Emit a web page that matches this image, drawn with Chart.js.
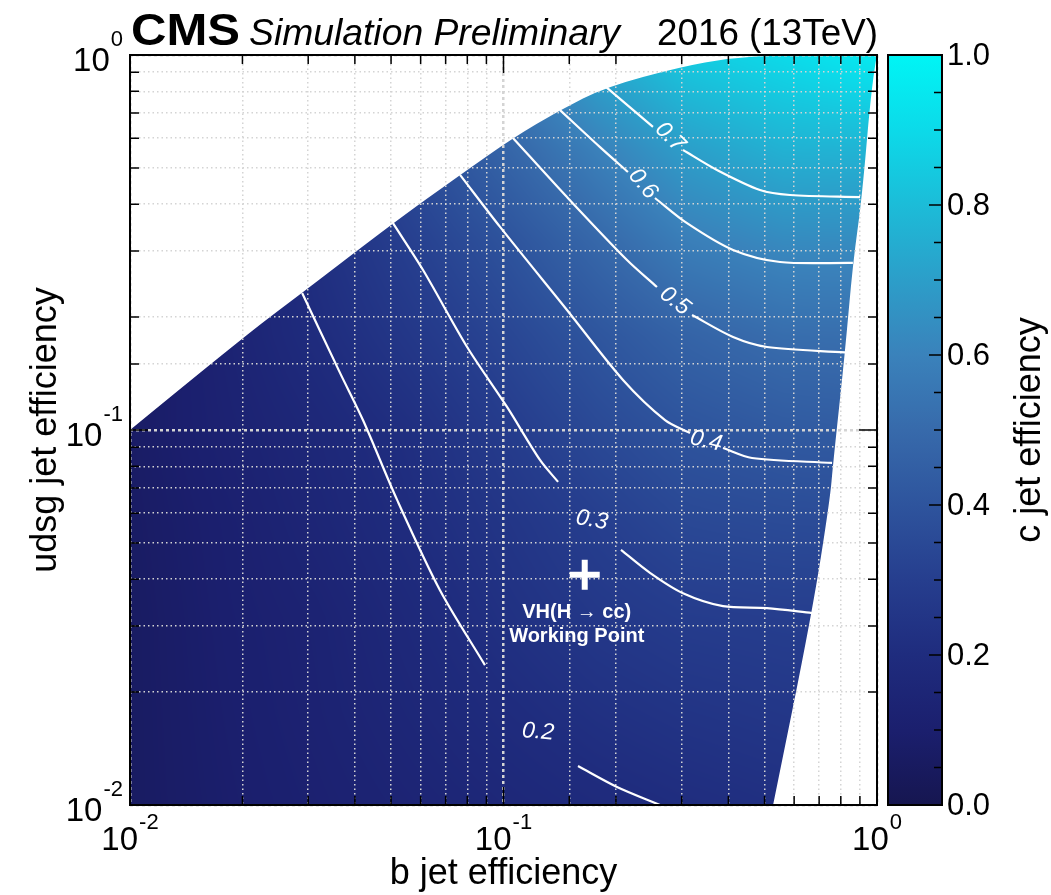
<!DOCTYPE html>
<html>
<head>
<meta charset="utf-8">
<script src="https://cdn.jsdelivr.net/npm/chart.js@4.4.1/dist/chart.umd.min.js"></script>
<style>
  html, body { margin: 0; padding: 0; background: #fff; }
  #wrap { position: relative; width: 1051px; height: 895px; }
</style>
</head>
<body>
<div id="wrap"><canvas id="chart"></canvas></div>
<script>
'use strict';

// ── Data ──────────────────────────────────────────────────────────────────
// Nodes of the c-jet efficiency map (b-jet eff. on x, udsg eff. on y, log spaced)
const MAP_X = [0.01, 0.0178, 0.0316, 0.0562, 0.1, 0.178, 0.316, 0.562, 1.0];
const MAP_Y = [1.0, 0.562, 0.316, 0.178, 0.1, 0.0562, 0.0316, 0.0178, 0.01];
// c-jet efficiency at each node; one row per MAP_Y entry
const C_EFF = [
  [0.15, 0.25, 0.35, 0.45, 0.57, 0.74, 0.85, 0.90, 0.96],
  [0.05, 0.12, 0.24, 0.357, 0.475, 0.594, 0.705, 0.766, 0.775],
  [0.05, 0.13, 0.218, 0.305, 0.39, 0.487, 0.585, 0.628, 0.635],
  [0.06, 0.13, 0.197, 0.263, 0.333, 0.406, 0.471, 0.513, 0.52],
  [0.07, 0.12, 0.165, 0.215, 0.285, 0.35, 0.40, 0.427, 0.44],
  [0.065, 0.105, 0.15, 0.199, 0.249, 0.30, 0.345, 0.357, 0.36],
  [0.06, 0.10, 0.13, 0.176, 0.225, 0.265, 0.29, 0.298, 0.30],
  [0.06, 0.095, 0.125, 0.16, 0.195, 0.226, 0.247, 0.26, 0.27],
  [0.06, 0.09, 0.115, 0.14, 0.165, 0.187, 0.205, 0.22, 0.23],
];

// Edges of the region where the map is defined
const UPPER_EDGE_X = [0.01, 0.0201, 0.0289, 0.0506, 0.0765, 0.106, 0.1417, 0.188, 0.297, 0.404, 0.55, 1.0];
const UPPER_EDGE_Y = [0.1, 0.177, 0.232, 0.356, 0.479, 0.601, 0.713, 0.822, 0.929, 0.982, 1.0, 1.0];
const RIGHT_EDGE_X = [1.0, 0.97, 0.912, 0.862, 0.821, 0.763, 0.748, 0.670, 0.527];
const RIGHT_EDGE_Y = [1.0, 0.858, 0.418, 0.279, 0.161, 0.0817, 0.0651, 0.0325, 0.01];

// Iso-efficiency contours (null = gap left for the label)
const ISO_LEVELS = [0.2, 0.3, 0.4, 0.5, 0.6, 0.7];
const ISO_X = [
  [0.0289, 0.0365, 0.0421, 0.0519, 0.0676, 0.0892, null, 0.1583, 0.2013, 0.2624],
  [0.0506, 0.0609, 0.0799, 0.1022, 0.1252, 0.140, null, 0.2063, 0.2467, 0.3024, 0.387, 0.5075, 0.670],
  [0.0765, 0.0979, 0.1479, 0.2089, 0.2707, 0.3157, null, 0.387, 0.4627, 0.758],
  [0.106, 0.1479, 0.2141, 0.2576, null, 0.3197, 0.4117, 0.5075, 0.821],
  [0.1417, 0.1813, 0.2154, null, 0.2544, 0.31, 0.4117, 0.55, 0.862],
  [0.188, 0.2513, null, 0.3024, 0.3729, 0.486, 0.585, 0.901],
];
const ISO_Y = [
  [0.232, 0.142, 0.106, 0.0651, 0.0374, 0.0236, null, 0.0127, 0.01117, 0.0100],
  [0.356, 0.267, 0.1665, 0.1152, 0.0832, 0.0727, null, 0.0479, 0.0416, 0.0367, 0.0339, 0.0335, 0.0325],
  [0.479, 0.348, 0.209, 0.136, 0.1063, 0.0982, null, 0.0895, 0.0842, 0.0817],
  [0.601, 0.418, 0.284, 0.2406, null, 0.2026, 0.177, 0.1665, 0.161],
  [0.713, 0.568, 0.4875, null, 0.4156, 0.356, 0.302, 0.2805, 0.279],
  [0.822, 0.643, null, 0.558, 0.4935, 0.4365, 0.4233, 0.418],
];
// Where each contour label sits
const ISO_LABEL_X = [0.1237, 0.1725, 0.3484, 0.2878, 0.2362, 0.2791];
const ISO_LABEL_Y = [0.01566, 0.0575, 0.0934, 0.2208, 0.453, 0.604];

// VH(H→cc) working point
const WP_X = [0.165];
const WP_Y = [0.0411];

const AXIS_LABEL_EXP = [-2, -1, 0];
const CBAR_LABELS = [0.0, 0.2, 0.4, 0.6, 0.8, 1.0];

// ── Style ─────────────────────────────────────────────────────────────────
const FONT = '"Liberation Sans", Arial, Helvetica, sans-serif';
const GRID_COL = '#d4d4d4';
const ISO_LABEL_ANGLE = [5, 10, 13, 38, 50, 45];
const CMAP_RGB = [
  [22, 22, 80], [27, 31, 110], [31, 44, 126], [38, 62, 142], [46, 84, 157],
  [55, 106, 171], [58, 130, 187], [44, 158, 201], [28, 188, 216], [12, 218, 233], [0, 245, 245],
];
const CBAR_LEFT = 888;
const CBAR_RIGHT = 942;

function cmap(v) {
  v = Math.max(0, Math.min(1, v));
  const t = v * (CMAP_RGB.length - 1);
  const i = Math.min(CMAP_RGB.length - 2, Math.floor(t));
  const f = t - i;
  const a = CMAP_RGB[i], b = CMAP_RGB[i + 1];
  return [a[0] + f * (b[0] - a[0]), a[1] + f * (b[1] - a[1]), a[2] + f * (b[2] - a[2])];
}

const isDecade = v => Math.abs(Math.log10(v) - Math.round(Math.log10(v))) < 1e-6;

// ── Region outline ────────────────────────────────────────────────────────
function smoothThrough(ctx, pts) {
  ctx.lineTo(pts[0][0], pts[0][1]);
  for (let i = 1; i < pts.length - 1; i++) {
    const mx = (pts[i][0] + pts[i + 1][0]) / 2, my = (pts[i][1] + pts[i + 1][1]) / 2;
    ctx.quadraticCurveTo(pts[i][0], pts[i][1], mx, my);
  }
  const last = pts[pts.length - 1];
  ctx.lineTo(last[0], last[1]);
}

function regionPath(ctx, xs, ys) {
  const up = UPPER_EDGE_X.map((x, i) => [xs.getPixelForValue(x), ys.getPixelForValue(UPPER_EDGE_Y[i])]);
  const rt = RIGHT_EDGE_X.map((x, i) => [xs.getPixelForValue(x), ys.getPixelForValue(RIGHT_EDGE_Y[i])]);
  const x0 = xs.getPixelForValue(xs.min), y0 = ys.getPixelForValue(ys.min);
  ctx.beginPath();
  ctx.moveTo(x0, y0);
  smoothThrough(ctx, up);
  smoothThrough(ctx, rt);
  ctx.closePath();
}

// ── Heat map, painted under the grid ──────────────────────────────────────
const heatmapPlugin = {
  id: 'heatmap',
  beforeDraw(chart) {
    const { ctx, chartArea: a, scales: { x: xs, y: ys } } = chart;
    const nx = MAP_X.map(v => xs.getPixelForValue(v));
    const ny = MAP_Y.map(v => ys.getPixelForValue(v));
    const w = Math.ceil(a.right - a.left), h = Math.ceil(a.bottom - a.top);
    const off = document.createElement('canvas');
    off.width = w; off.height = h;
    const octx = off.getContext('2d');
    const img = octx.createImageData(w, h);

    const locate = (nodes, p) => {
      let k = 0;
      while (k < nodes.length - 2 && p > nodes[k + 1]) k++;
      const f = (p - nodes[k]) / (nodes[k + 1] - nodes[k]);
      return [k, Math.max(0, Math.min(1, f))];
    };
    const cols = [], rows = [];
    for (let i = 0; i < w; i++) cols.push(locate(nx, a.left + i + 0.5));
    for (let j = 0; j < h; j++) rows.push(locate(ny, a.top + j + 0.5));

    let p = 0;
    for (let j = 0; j < h; j++) {
      const [r, fy] = rows[j];
      for (let i = 0; i < w; i++) {
        const [c, fx] = cols[i];
        const top = C_EFF[r][c] + fx * (C_EFF[r][c + 1] - C_EFF[r][c]);
        const bot = C_EFF[r + 1][c] + fx * (C_EFF[r + 1][c + 1] - C_EFF[r + 1][c]);
        const rgb = cmap(top + fy * (bot - top));
        img.data[p++] = rgb[0]; img.data[p++] = rgb[1]; img.data[p++] = rgb[2]; img.data[p++] = 255;
      }
    }
    octx.putImageData(img, 0, 0);

    ctx.save();
    regionPath(ctx, xs, ys);
    ctx.clip();
    ctx.drawImage(off, a.left, a.top);
    ctx.restore();
  },
};

// ── Frame, ticks, labels, colour bar ──────────────────────────────────────
function drawPow(ctx, exp, left, baseline, supBaseline) {
  ctx.font = '33px ' + FONT;
  ctx.textAlign = 'left';
  ctx.textBaseline = 'alphabetic';
  ctx.fillText('10', left, baseline);
  const w10 = ctx.measureText('10').width;
  ctx.font = '22px ' + FONT;
  ctx.fillText(String(exp), left + w10 + 1, supBaseline);
}
function powWidth(ctx, exp) {
  ctx.font = '33px ' + FONT;
  const w10 = ctx.measureText('10').width;
  ctx.font = '22px ' + FONT;
  return w10 + 1 + ctx.measureText(String(exp)).width;
}
function fitText(ctx, str, left, baseline, font, width) {
  ctx.save();
  ctx.font = font;
  ctx.textAlign = 'left';
  ctx.textBaseline = 'alphabetic';
  const m = ctx.measureText(str).width;
  ctx.translate(left, baseline);
  ctx.scale(width / m, 1);
  ctx.fillText(str, 0, 0);
  ctx.restore();
}

const overlayPlugin = {
  id: 'overlay',
  afterDraw(chart) {
    const { ctx, chartArea: a, scales: { x: xs, y: ys } } = chart;
    ctx.save();

    // contour labels
    ctx.fillStyle = '#ffffff';
    ctx.font = 'italic 23px ' + FONT;
    ctx.textAlign = 'center';
    ctx.textBaseline = 'middle';
    ISO_LEVELS.forEach((lv, i) => {
      ctx.save();
      ctx.translate(xs.getPixelForValue(ISO_LABEL_X[i]), ys.getPixelForValue(ISO_LABEL_Y[i]));
      ctx.rotate(ISO_LABEL_ANGLE[i] * Math.PI / 180);
      ctx.fillText(lv.toFixed(1), 0, 0);
      ctx.restore();
    });

    // working point caption
    const wpx = xs.getPixelForValue(WP_X[0]), wpy = ys.getPixelForValue(WP_Y[0]);
    ctx.font = 'bold 20px ' + FONT;
    ctx.fillText('VH(H \u2192 cc)', wpx - 8, wpy + 38);
    ctx.fillText('Working Point', wpx - 8, wpy + 62);

    // frame
    ctx.strokeStyle = '#000';
    ctx.lineWidth = 2;
    ctx.strokeRect(a.left, a.top, a.right - a.left, a.bottom - a.top);

    // inward ticks on all four sides
    ctx.lineWidth = 1.5;
    ctx.beginPath();
    xs.ticks.forEach(t => {
      const px = xs.getPixelForValue(t.value);
      const len = isDecade(t.value) ? 18 : 9;
      ctx.moveTo(px, a.bottom); ctx.lineTo(px, a.bottom - len);
      ctx.moveTo(px, a.top); ctx.lineTo(px, a.top + len);
    });
    ys.ticks.forEach(t => {
      const py = ys.getPixelForValue(t.value);
      const len = isDecade(t.value) ? 18 : 9;
      ctx.moveTo(a.left, py); ctx.lineTo(a.left + len, py);
      ctx.moveTo(a.right, py); ctx.lineTo(a.right - len, py);
    });
    ctx.stroke();

    // tick labels 10^n
    ctx.fillStyle = '#000';
    AXIS_LABEL_EXP.forEach(e => {
      const v = Math.pow(10, e);
      const px = xs.getPixelForValue(v);
      const w = powWidth(ctx, e);
      drawPow(ctx, e, px - w / 2, a.bottom + 45, a.bottom + 24);
      const py = ys.getPixelForValue(v);
      drawPow(ctx, e, 123 - w, py + 16, py - 9);
    });

    // axis titles
    ctx.font = '36px ' + FONT;
    ctx.textAlign = 'center';
    ctx.textBaseline = 'alphabetic';
    ctx.fillText('b jet efficiency', (a.left + a.right) / 2, 884);
    ctx.save();
    ctx.translate(56, (a.top + a.bottom) / 2);
    ctx.rotate(-Math.PI / 2);
    ctx.fillText('udsg jet efficiency', 0, 0);
    ctx.restore();

    // header
    fitText(ctx, 'CMS', 131, 45, 'bold 44px ' + FONT, 109);
    fitText(ctx, 'Simulation Preliminary', 249, 45, 'italic 36px ' + FONT, 371);
    fitText(ctx, '2016 (13TeV)', 657, 45, '36px ' + FONT, 221);

    // colour bar
    const grad = ctx.createLinearGradient(0, a.bottom, 0, a.top);
    CMAP_RGB.forEach((c, i) => grad.addColorStop(i / (CMAP_RGB.length - 1), `rgb(${c[0]},${c[1]},${c[2]})`));
    ctx.fillStyle = grad;
    ctx.fillRect(CBAR_LEFT, a.top, CBAR_RIGHT - CBAR_LEFT, a.bottom - a.top);
    ctx.strokeStyle = '#000';
    ctx.lineWidth = 2;
    ctx.strokeRect(CBAR_LEFT, a.top, CBAR_RIGHT - CBAR_LEFT, a.bottom - a.top);
    const cy = v => a.bottom - v * (a.bottom - a.top);
    ctx.lineWidth = 1.5;
    ctx.beginPath();
    for (let k = 1; k < 20; k++) {
      const len = k % 4 === 0 ? 13 : 8;
      ctx.moveTo(CBAR_RIGHT, cy(k / 20)); ctx.lineTo(CBAR_RIGHT - len, cy(k / 20));
    }
    ctx.stroke();
    ctx.fillStyle = '#000';
    ctx.font = '31px ' + FONT;
    ctx.textAlign = 'left';
    ctx.textBaseline = 'middle';
    CBAR_LABELS.forEach(v => ctx.fillText(v.toFixed(1), 947, cy(v) + 1));
    ctx.font = '36px ' + FONT;
    ctx.textAlign = 'center';
    ctx.textBaseline = 'alphabetic';
    ctx.save();
    ctx.translate(1040, (a.top + a.bottom) / 2);
    ctx.rotate(-Math.PI / 2);
    ctx.fillText('c jet efficiency', 0, 0);
    ctx.restore();

    ctx.restore();
  },
};

// ── Datasets ──────────────────────────────────────────────────────────────
function contourDatasets() {
  const out = [];
  ISO_X.forEach((xsArr, li) => {
    let seg = [];
    const flush = () => {
      if (seg.length) {
        out.push({
          label: 'c eff ' + ISO_LEVELS[li],
          data: seg,
          showLine: true,
          tension: 0.3,
          borderColor: '#ffffff',
          borderWidth: 2.2,
          pointRadius: 0,
        });
      }
      seg = [];
    };
    xsArr.forEach((x, i) => {
      if (x === null) { flush(); return; }
      seg.push({ x, y: ISO_Y[li][i] });
    });
    flush();
  });
  return out;
}

const datasets = contourDatasets();
datasets.push({
  label: 'working point',
  data: WP_X.map((x, i) => ({ x, y: WP_Y[i] })),
  pointStyle: 'cross',
  pointRadius: 15,
  pointBorderWidth: 6,
  pointBorderColor: '#ffffff',
  showLine: false,
});

const axisOpts = {
  type: 'logarithmic',
  min: 0.01,
  max: 1,
  ticks: { display: false },
  grid: {
    color: GRID_COL,
    lineWidth: c => (c.tick && isDecade(c.tick.value) ? 2.5 : 1.5),
    drawTicks: false,
  },
  border: { display: false, dash: c => (c.tick && isDecade(c.tick.value) ? [3, 3] : [1.5, 3]) },
};

new Chart(document.getElementById('chart'), {
  type: 'scatter',
  data: { datasets },
  options: {
    responsive: true,
    maintainAspectRatio: false,
    animation: false,
    events: [],
    layout: { padding: { left: 130, top: 55, right: 174, bottom: 90 } },
    plugins: { legend: { display: false }, tooltip: { enabled: false } },
    scales: { x: { ...axisOpts }, y: { ...axisOpts } },
  },
  plugins: [heatmapPlugin, overlayPlugin],
});
</script>
</body>
</html>
